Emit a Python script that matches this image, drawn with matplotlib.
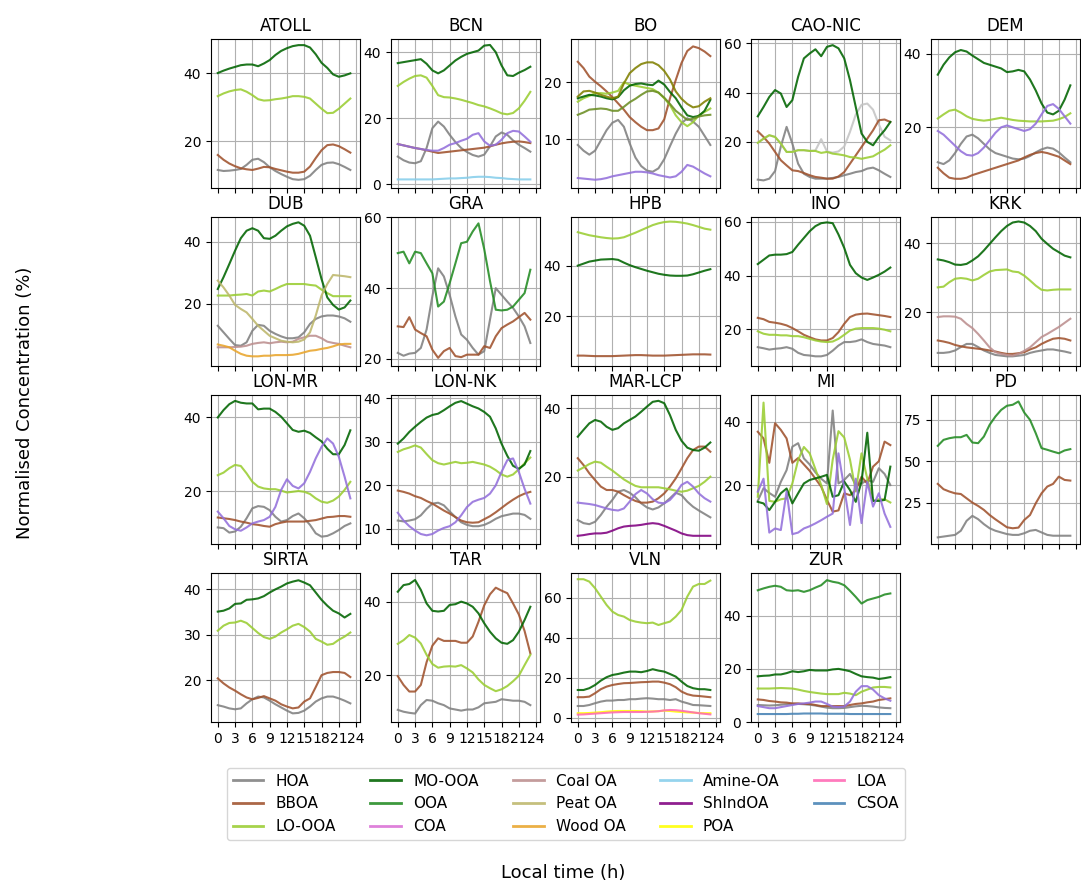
import numpy as np
import matplotlib
matplotlib.use("Agg")
import matplotlib.pyplot as plt
from matplotlib.lines import Line2D

hours = np.arange(24)

factor_order = ["HOA", "HOA-b", "BBOA", "LO-OOA", "MO-OOA", "OOA", "COA", "Coal OA", "Peat OA",
                "Wood OA", "Amine-OA", "ShIndOA", "POA", "LOA", "CSOA", "OOA-a", "OOA-b"]
factor_colors = {
    "HOA": "grey", "BBOA": "sienna", "LO-OOA": "yellowgreen", "MO-OOA": "darkgreen",
    "OOA": "forestgreen", "COA": "mediumpurple", "Coal OA": "rosybrown", "Peat OA": "darkkhaki",
    "Wood OA": "#e9a52c", "Amine-OA": "skyblue", "ShIndOA": "purple", "POA": "yellow",
    "LOA": "hotpink", "CSOA": "steelblue", "OOA-a": "olive", "OOA-b": "olivedrab",
    "HOA-b": "#c4c4c4",
}
legend_labels = ["HOA", "BBOA", "LO-OOA", "MO-OOA", "OOA", "COA", "Coal OA", "Peat OA",
                 "Wood OA", "Amine-OA", "ShIndOA", "POA", "LOA", "CSOA"]
legend_colors = {"COA": "orchid"}

sites = ["ATOLL", "BCN", "BO", "CAO-NIC", "DEM", "DUB", "GRA", "HPB", "INO", "KRK",
         "LON-MR", "LON-NK", "MAR-LCP", "MI", "PD", "SIRTA", "TAR", "VLN", "ZUR"]

ATOLL = {
    "MO-OOA": [40, 40.7, 41.3, 41.8, 42.3, 42.5, 42.5, 42, 42.8, 43.8, 45.3, 46.5, 47.3, 47.9, 48.2, 48.2, 47.5, 45.5, 43, 41.5, 39.6, 38.9, 39.3, 39.9],
    "LO-OOA": [33.2, 34, 34.6, 35, 35.2, 34.5, 33.5, 32.3, 31.9, 32, 32.3, 32.5, 32.8, 33.2, 33.2, 33, 32.5, 31, 29.5, 28.2, 28.3, 29.5, 31, 32.5],
    "BBOA": [15.9, 14.5, 13.4, 12.6, 12, 11.7, 11.5, 11.9, 12.4, 12.3, 11.8, 11.4, 11, 10.7, 10.7, 11, 12.5, 15, 17.3, 18.8, 19, 18.5, 17.6, 16.6],
    "HOA": [11.5, 11.2, 11.3, 11.5, 11.8, 13, 14.5, 14.8, 13.8, 12.3, 11.2, 10.3, 9.5, 8.8, 8.6, 8.8, 9.8, 11.5, 13, 13.6, 13.7, 13.2, 12.4, 11.5],
}
BCN = {
    "MO-OOA": [36.7, 37, 37.3, 37.6, 37.9, 36.5, 34.5, 33.6, 34.5, 36, 37.5, 38.6, 39.5, 40, 40.5, 42, 42.2, 40, 36, 33, 32.8, 33.8, 34.6, 35.6],
    "LO-OOA": [29.8, 31, 32, 32.8, 33, 32.3, 29.8, 27, 26.4, 26.3, 26, 25.6, 25.1, 24.6, 24, 23.6, 23, 22.3, 21.5, 21.2, 21.6, 23, 25.3, 28],
    "HOA": [8.4, 7.3, 6.6, 6.4, 7, 11, 17, 19, 17.5, 15, 12.8, 11, 9.8, 8.9, 8.4, 9, 11.5, 14.5, 15.7, 15, 13.3, 12, 11, 9.9],
    "COA": [12.2, 11.8, 11.4, 11, 10.7, 10.4, 10.2, 10.2, 11, 12, 12.5, 13.2, 13.8, 15, 15.5, 13, 11.7, 12, 13.5, 15.5, 16.2, 16, 14.5, 12.9],
    "BBOA": [12.2, 11.8, 11.4, 11, 10.7, 10.3, 9.9, 9.5, 9.7, 9.9, 10.1, 10.3, 10.5, 10.7, 10.9, 11.1, 11.5, 12, 12.4, 12.7, 12.9, 13, 12.8, 12.5],
    "Amine-OA": [1.5, 1.5, 1.5, 1.5, 1.5, 1.5, 1.5, 1.6, 1.7, 1.8, 1.8, 1.9, 2, 2.2, 2.3, 2.3, 2.2, 2, 1.9, 1.7, 1.6, 1.5, 1.5, 1.5],
}
BO = {
    "BBOA": [23.6, 22.5, 21, 20.1, 19.3, 18.4, 17.4, 16.3, 15.2, 13.9, 13, 12.2, 11.6, 11.6, 11.9, 13.5, 17.2, 20.4, 23.4, 25.5, 26.3, 26, 25.4, 24.6],
    "OOA-a": [17.5, 18.4, 18.5, 18.2, 17.8, 17.5, 17.2, 17.5, 19.8, 21.6, 22.5, 23.2, 23.5, 23.5, 23, 22, 20.5, 18.4, 17.1, 16.2, 15.6, 15.8, 16.6, 17.2],
    "MO-OOA": [17.2, 17.5, 17.8, 17.7, 17.5, 17.2, 17, 17.4, 18.6, 19.4, 19.7, 19.8, 19.6, 19.5, 20.3, 19.6, 18.3, 17.2, 15.6, 14.2, 13.9, 14.1, 15, 16.9],
    "LO-OOA": [16.6, 17.2, 17.6, 18.1, 18.1, 18, 18.2, 18.5, 20, 19.6, 19.4, 19.2, 19, 18.8, 18.2, 17.2, 16, 14.2, 13, 12.3, 13, 14.2, 14.8, 15.4],
    "OOA-b": [14.3, 14.7, 15.2, 15.3, 15.4, 15.3, 15, 15, 15.7, 16.5, 17.1, 17.8, 18.4, 18.5, 18.2, 17.3, 16.2, 15, 14.2, 13.4, 13.6, 14, 14.2, 14.3],
    "HOA": [9, 8, 7.3, 8, 9.8, 11.6, 12.9, 13.4, 12.2, 9.3, 6.8, 5.3, 4.5, 4.3, 4.9, 6.5, 8.8, 11, 12.8, 13.7, 13.1, 12.2, 10.6, 9],
    "COA": [3.2, 3.1, 3, 2.9, 3, 3.2, 3.5, 3.7, 3.9, 4.1, 4.3, 4.3, 4.2, 4, 3.7, 3.5, 3.3, 3.5, 4.3, 5.5, 5.2, 4.6, 4, 3.5],
}
CAO_NIC = {
    "MO-OOA": [30.3, 34.1, 38.2, 41, 39.6, 34.1, 36.9, 46.4, 53.9, 55.9, 57.6, 54.8, 58.6, 59.3, 58, 53.9, 45, 34.1, 23.3, 19.9, 18.5, 21.9, 24.6, 28],
    "BBOA": [24.2, 21.9, 19.2, 15.8, 12.4, 10.3, 8.3, 8, 7.2, 6.3, 5.6, 5.3, 4.9, 4.9, 5.8, 7.6, 11, 14.4, 17.8, 21.2, 24.6, 28.7, 29, 28],
    "LO-OOA": [19.5, 21.2, 22.6, 21.9, 19.2, 15.8, 15.8, 16.5, 16.5, 16.2, 16.2, 15.4, 15.8, 15.1, 14.8, 14.4, 13.7, 13.5, 13, 13.5, 14, 15.4, 16.7, 18.5],
    "HOA": [4.5, 4.2, 4.9, 8, 18, 26, 19.2, 11, 6.9, 5.6, 4.9, 4.9, 4.9, 5.2, 5.6, 6.3, 6.9, 7.6, 8, 9, 9.4, 8.3, 6.9, 5.6],
    "HOA-b": [19.5, 21.2, 22.6, 21.9, 19.2, 15.8, 15.8, 16.5, 16.5, 16.2, 16.4, 21, 16, 15.5, 16, 18, 24, 31, 35, 35.5, 33, 27, 22, 20.5],
}
DEM = {
    "MO-OOA": [34.3, 37, 39, 40.4, 41, 40.6, 39.5, 38.5, 37.5, 37, 36.5, 36, 35, 35.2, 35.6, 35.2, 33, 30, 26.5, 24, 23.5, 24.5, 27.5, 31.4],
    "LO-OOA": [22.4, 23.5, 24.5, 24.8, 24, 23, 22.3, 22, 21.8, 22, 22.3, 22.6, 22.3, 22, 21.8, 21.7, 21.6, 21.6, 21.6, 21.7, 21.8, 22.2, 22.8, 23.8],
    "COA": [19, 18, 16.5, 15, 13.5, 12.5, 12.3, 13, 14.5, 16.5, 18.5, 20, 20.5, 20, 19.5, 19, 19.5, 21, 23.5, 25.8, 26.3, 25, 23, 21],
    "HOA": [10.5, 10, 11, 13, 15.5, 17.5, 18, 17, 15.5, 14, 13, 12.5, 12, 11.5, 11.3, 11.5, 12.2, 13.2, 14, 14.5, 14.2, 13.2, 11.8, 10.5],
    "BBOA": [9, 7.5, 6.3, 6, 6, 6.3, 7, 7.5, 8, 8.5, 9, 9.5, 10, 10.5, 11, 11.8, 12.5, 13, 13.3, 13, 12.5, 12, 11, 10],
}
DUB = {
    "MO-OOA": [24.8, 28.6, 32.8, 37.1, 41.1, 43.5, 44.3, 43.5, 41.1, 40.9, 41.9, 43.5, 44.9, 45.7, 46.2, 45.1, 41.9, 35, 28, 22.1, 19.7, 18.2, 18.9, 21.1],
    "LO-OOA": [22.7, 22.7, 22.7, 22.9, 23, 23.2, 22.7, 24, 24.3, 24, 24.8, 25.7, 26.4, 26.4, 26.4, 26.4, 26.1, 25.9, 24.6, 23.5, 22.5, 22.5, 22.5, 22.5],
    "Peat OA": [27.5, 25.3, 22.7, 19.7, 18.4, 17.3, 15.2, 13, 11.4, 9.8, 9, 8.2, 7.9, 7.7, 7.9, 8.6, 10.9, 16.3, 22.7, 26.4, 29.3, 29.1, 28.9, 28.6],
    "HOA": [13, 10.9, 8.8, 6.8, 6.6, 7.7, 11.4, 13.3, 13, 11.4, 10.4, 9.6, 9, 9, 9.3, 10.9, 13.6, 15.2, 16, 16.3, 16.3, 16, 15.4, 14.3],
    "Coal OA": [6.1, 6.1, 6.1, 6.2, 6.3, 6.6, 7.2, 7.5, 7.7, 7.4, 7.7, 7.9, 7.7, 7.9, 8.8, 9.3, 9.8, 9.8, 9, 7.9, 7.5, 7.2, 6.6, 6.1],
    "Wood OA": [7, 6.6, 6.1, 5, 4, 3.4, 3.2, 3.2, 3.4, 3.4, 3.6, 3.6, 3.6, 3.7, 4, 4.5, 5, 5.2, 5.6, 5.9, 6.4, 7, 7.2, 7.2],
}
GRA = {
    "OOA": [49.9, 50.3, 47, 50.3, 49.9, 47, 44.2, 34.8, 36.2, 41.4, 47, 52.7, 53.1, 56, 58.3, 51, 42, 33.9, 33.7, 33.9, 34.8, 36.7, 38.6, 45.2],
    "HOA": [21.7, 20.9, 21.5, 21.7, 23.1, 28.3, 37.7, 45.6, 43.3, 38.1, 32, 26.9, 25.4, 23.1, 21.2, 22.2, 31.1, 40, 38.1, 36.2, 34.4, 32, 29.2, 24.5],
    "BBOA": [29.2, 29, 31.8, 28.3, 27.3, 26.4, 22.6, 20.3, 22.2, 23.1, 20.8, 20.5, 21.2, 21.2, 21.2, 23.6, 23.1, 26.4, 28.7, 29.7, 30.6, 31.8, 33, 31.1],
}
HPB = {
    "LO-OOA": [53.2, 52.6, 52, 51.6, 51.2, 50.9, 50.7, 50.8, 51.2, 52.1, 53, 54, 55, 56, 56.7, 57.2, 57.4, 57.3, 57, 56.6, 56, 55.3, 54.6, 54.2],
    "MO-OOA": [40, 40.8, 41.6, 42, 42.4, 42.5, 42.6, 42.3, 41.2, 40.2, 39.4, 38.7, 38, 37.4, 36.8, 36.4, 36.1, 36, 36, 36.1, 36.6, 37.3, 38, 38.6],
    "BBOA": [4.5, 4.5, 4.4, 4.3, 4.3, 4.3, 4.3, 4.4, 4.5, 4.6, 4.7, 4.7, 4.6, 4.5, 4.5, 4.5, 4.6, 4.7, 4.8, 4.9, 5, 5, 5, 4.9],
}
INO = {
    "MO-OOA": [44.3, 45.9, 47.5, 47.8, 47.8, 48, 48.8, 51.5, 54, 56.5, 58.4, 59.5, 59.8, 59.5, 55.3, 50.3, 44, 40.9, 39.3, 38.4, 39.3, 40.3, 41.5, 43],
    "BBOA": [24.3, 23.8, 22.8, 22.5, 22.1, 21.5, 20.5, 19.3, 18, 17.1, 16.3, 15.9, 15.9, 16.8, 19, 22.1, 24.6, 25.5, 25.8, 25.9, 25.6, 25.3, 25, 24.6],
    "LO-OOA": [19.3, 18.4, 18, 18, 17.8, 17.8, 17.5, 17.5, 17.1, 16.5, 15.9, 15.5, 15.3, 15.5, 16.5, 18, 19.6, 20.3, 20.5, 20.5, 20.5, 20.3, 19.9, 19.3],
    "HOA": [13.4, 13, 12.5, 12.8, 13, 13.4, 12.8, 11.3, 10.5, 10.3, 10, 10, 10.5, 12.1, 14, 15.3, 15.3, 15.6, 16.3, 15.3, 14.6, 14.3, 14, 13.4],
}
KRK = {
    "MO-OOA": [35.3, 35, 34.5, 33.8, 33.7, 34, 35, 36.2, 37.9, 39.8, 41.7, 43.5, 45, 46, 46.3, 46, 45, 43.5, 41.3, 39.8, 38.4, 37.4, 36.4, 35.9],
    "LO-OOA": [27.2, 27.4, 28.7, 29.7, 29.9, 29.7, 29.2, 29.7, 30.8, 31.8, 32.2, 32.3, 32.4, 31.8, 31.6, 30.6, 29.2, 27.7, 26.5, 26.3, 26.5, 26.6, 26.6, 26.6],
    "Coal OA": [18.6, 18.8, 18.8, 18.7, 18.1, 16.6, 15.4, 13.7, 11.8, 9.8, 8.4, 7.9, 7.6, 7.4, 7.9, 8.8, 9.8, 11.3, 12.8, 13.7, 14.7, 15.7, 16.9, 18.1],
    "BBOA": [11.8, 11.5, 11.1, 10.5, 10.1, 9.8, 9.6, 9.4, 9.2, 8.9, 8.6, 8.2, 7.9, 7.9, 8.1, 8.4, 9.2, 9.8, 10.8, 11.6, 12.3, 12.5, 12.3, 11.8],
    "HOA": [8.2, 8.2, 8.4, 8.9, 9.9, 10.8, 10.8, 9.9, 8.9, 8.2, 7.6, 7.4, 7.2, 7.2, 7.4, 7.6, 8.2, 8.6, 8.9, 9.2, 9.2, 8.9, 8.6, 8.2],
}
LON_MR = {
    "MO-OOA": [40, 42, 43.6, 44.5, 44, 43.8, 43.8, 42.2, 42.4, 42.4, 41.5, 40.2, 38.4, 36.6, 36.1, 36.4, 35.8, 34.6, 33.5, 31.5, 30, 30, 32.5, 36.5],
    "COA": [14.4, 12.6, 10.5, 9.6, 9.2, 10.1, 11.2, 11.7, 12.1, 13, 15.7, 20.3, 23.2, 21.4, 20.7, 22.1, 25.2, 28.9, 32, 34.3, 32.9, 29.3, 23.9, 18],
    "LO-OOA": [24.3, 25, 26.2, 27.1, 26.8, 24.8, 22.5, 21.2, 20.7, 20.5, 20.5, 20.1, 19.6, 19.8, 20, 19.8, 19.2, 18, 17.1, 16.8, 17.4, 18.5, 20.3, 22.5],
    "BBOA": [12.8, 12.6, 12.4, 12.1, 11.7, 11.4, 11, 10.8, 10.5, 10.3, 11, 11.4, 11.7, 11.7, 11.7, 11.7, 11.9, 12.1, 12.5, 12.9, 13, 13.2, 13.2, 13],
    "HOA": [10.1, 9.9, 8.7, 9, 10.3, 12.6, 15.3, 15.9, 15.7, 14.8, 13, 11.7, 12.1, 13.2, 13.9, 12.6, 10.8, 8.5, 7.6, 7.8, 8.5, 9.4, 10.5, 11.2],
}
LON_NK = {
    "MO-OOA": [29.6, 30.8, 32.3, 33.5, 34.6, 35.6, 36.2, 36.5, 37.3, 38.2, 39, 39.4, 38.8, 38.2, 37.7, 36.9, 35.8, 33.1, 29.6, 26.8, 24.5, 23.8, 24.8, 27.9],
    "LO-OOA": [27.7, 28.3, 28.7, 29.2, 28.7, 27.2, 25.8, 25.1, 24.8, 25.1, 25.4, 25.1, 25.2, 25.4, 25.1, 24.8, 24.3, 23.5, 22.5, 22, 22.5, 23.7, 25.1, 26.4],
    "COA": [13.7, 11.9, 10.6, 9.6, 8.8, 8.5, 8.8, 9.6, 10.2, 10.6, 11.5, 13.1, 15, 16.2, 16.7, 17.1, 18.1, 20, 23.1, 25.8, 26.2, 23.1, 19.2, 15.8],
    "BBOA": [18.8, 18.5, 18.1, 17.5, 17.1, 16.4, 15.8, 15, 14.2, 13.5, 12.7, 11.9, 11.5, 11.4, 11.5, 12.2, 12.9, 13.8, 14.8, 15.8, 16.7, 17.5, 18.1, 18.5],
    "HOA": [11.9, 11.7, 11.9, 12.2, 13.1, 14.6, 15.8, 16, 15.4, 14, 12.7, 11.5, 10.9, 10.6, 10.6, 10.9, 11.5, 12.3, 12.9, 13.2, 13.5, 13.5, 13.2, 12.3],
}
MAR_LCP = {
    "MO-OOA": [31.7, 33.7, 35.6, 36.6, 36.1, 34.6, 33.7, 34.2, 35.6, 36.6, 37.6, 39, 40.5, 41.9, 42.2, 41.5, 38, 33.7, 30.5, 28.5, 27.8, 27.6, 28.5, 30],
    "BBOA": [25.4, 23.4, 21, 19, 17.1, 16.1, 16.1, 15.6, 14.6, 13.7, 12.9, 12.4, 12.4, 12.7, 13.7, 15.1, 17.1, 19.5, 22.4, 25.4, 27.8, 28.8, 28.8, 27.3],
    "LO-OOA": [21.8, 22.7, 23.7, 24.4, 24.1, 22.9, 21.8, 20.5, 19.2, 18.2, 17.3, 16.9, 16.9, 16.9, 16.9, 16.6, 16.3, 15.9, 15.6, 15.9, 16.6, 17.3, 18.5, 20],
    "COA": [12.4, 12.2, 12, 11.7, 11.2, 10.7, 10.3, 10.1, 10.7, 12.7, 14.9, 16.1, 15.1, 13.4, 12.4, 12.2, 13.2, 15.1, 17.6, 18.5, 17.1, 15.1, 13.7, 12.7],
    "HOA": [7.3, 6.4, 6.1, 6.8, 8.8, 11.2, 13.2, 15.6, 16.1, 15.3, 14, 12.2, 11, 10.4, 11, 12.2, 13.7, 15.3, 14.6, 12.7, 11.2, 10.1, 9.1, 8.1],
    "ShIndOA": [2.7, 2.9, 3.2, 3.4, 3.4, 3.6, 4.2, 4.9, 5.4, 5.6, 5.7, 5.9, 6.2, 6.4, 6.2, 5.6, 4.9, 4.2, 3.4, 2.9, 2.7, 2.7, 2.7, 2.7],
}
MI = {
    "HOA": [15, 19, 17.5, 16.3, 21, 24.7, 32.1, 33.2, 28.4, 26.5, 24, 22, 20.5, 43.5, 20.5, 21.6, 23.5, 20, 20.5, 21.5, 21, 25.3, 23.5, 20],
    "BBOA": [36.8, 34.7, 27, 39.5, 37.4, 34.7, 27, 28.5, 26.5, 24.5, 22, 19.5, 15.3, 11.6, 12, 17.4, 16.8, 18.4, 22.6, 20.5, 25.8, 27.5, 33.7, 32.6],
    "LO-OOA": [16.3, 46, 15, 14.7, 15.5, 15.8, 20.5, 27.9, 32, 30, 25, 20, 14, 28, 37, 35, 28, 18, 30, 22, 15, 15.5, 15.5, 14.5],
    "MO-OOA": [14.7, 14.2, 12.1, 14.7, 17.4, 18.9, 14.2, 17.4, 20.5, 21.6, 22.1, 22.6, 23.2, 16.3, 16.8, 21.1, 18.4, 14.7, 21.1, 36.5, 15, 15, 15.3, 25.8],
    "COA": [17.9, 22, 5, 6.3, 5.8, 18, 4.5, 5, 6.3, 7, 7.9, 8.9, 10, 11, 30, 19, 7.4, 22, 8, 21, 13.2, 17.4, 11, 6.8],
}
PD = {
    "OOA": [59.3, 62.9, 63.9, 64.5, 64.5, 65.9, 61.3, 60.9, 64.9, 72, 77, 81, 83.5, 84.1, 86.1, 79.4, 75, 66.9, 57.9, 56.9, 55.8, 54.8, 56.5, 57.3],
    "BBOA": [36.3, 33.1, 31.7, 30.6, 30.2, 27.6, 25, 23, 20.6, 17.5, 14.9, 12.5, 10.1, 9.5, 9.9, 14.5, 17.5, 24.6, 30.6, 34.7, 36.3, 40.7, 38.7, 38.3],
    "HOA": [4, 4.5, 5, 5.5, 8, 14, 17, 15, 12, 9.5, 8, 7, 6, 5.5, 5.5, 6.5, 8, 8.5, 7, 5.5, 5, 5, 5, 5],
}
SIRTA = {
    "MO-OOA": [35.1, 35.3, 35.8, 36.8, 36.9, 37.7, 37.8, 38, 38.5, 39.3, 40, 40.6, 41.3, 41.7, 42, 41.5, 40.9, 39.3, 37.7, 36.4, 35.3, 34.7, 33.8, 34.6],
    "LO-OOA": [30.9, 32, 32.6, 32.7, 33.1, 32.6, 31.5, 30.4, 29.5, 29.1, 29.6, 30.5, 31.2, 32, 32.4, 31.7, 30.7, 29.1, 28.5, 27.8, 28, 28.9, 29.6, 30.5],
    "BBOA": [20.4, 19.3, 18.4, 17.7, 16.9, 16.2, 15.8, 16.1, 16.5, 16, 15.5, 14.7, 14.2, 13.8, 14, 15.3, 16, 18.5, 21.1, 21.6, 21.8, 21.8, 21.6, 20.7],
    "HOA": [14.5, 14.2, 13.8, 13.6, 13.8, 14.9, 15.8, 16.4, 16.2, 15.5, 14.7, 14, 13.3, 12.7, 12.8, 13.3, 14.2, 15.3, 16, 16.4, 16.4, 16, 15.5, 14.9],
}
TAR = {
    "MO-OOA": [42.7, 44.5, 44.8, 45.9, 43.2, 39.5, 37.5, 37.3, 37.5, 39.1, 39.3, 40, 39.5, 38.6, 36.8, 34.1, 31.8, 30, 28.8, 28.5, 29.5, 31.8, 35, 38.6],
    "BBOA": [19.7, 17.3, 15.5, 15.5, 17.3, 23.5, 28, 30, 29.3, 29.3, 29.3, 28.8, 28.8, 30.5, 34.5, 39, 42, 43.8, 43, 42.3, 39.5, 36.5, 32, 25.9],
    "LO-OOA": [28.5, 29.5, 30.9, 30.2, 28.6, 25.5, 23, 22, 22.3, 22.4, 22.3, 22.7, 21.8, 20.7, 18.8, 17.3, 16.4, 15.6, 16.1, 17, 18.3, 19.8, 22.7, 25.5],
    "HOA": [10.5, 10, 9.7, 9.5, 11.8, 13.2, 13, 12.3, 11.8, 10.9, 10.6, 10.3, 10.6, 10.6, 11.2, 12.3, 12.5, 12.7, 13.4, 13.2, 13, 13, 12.7, 11.8],
}
VLN = {
    "LO-OOA": [69.2, 69.2, 68, 64.7, 60.5, 56.3, 53, 51.3, 50.5, 48.8, 48, 47.5, 47.2, 47.5, 46.3, 47.2, 48, 50.5, 53.8, 60.5, 65.5, 66.8, 66.8, 68.5],
    "MO-OOA": [13.8, 13.8, 14.7, 16.3, 18.5, 20.2, 21.3, 21.8, 22.5, 23, 23, 22.7, 23.3, 24.2, 23.5, 23, 21.8, 20.5, 18, 15.8, 14.7, 14.2, 14.2, 13.8],
    "BBOA": [10.2, 10.2, 10.5, 12.2, 14.2, 15.5, 16.3, 16.8, 17.2, 17.3, 17.5, 17.7, 17.8, 18, 18, 17.5, 16.7, 15.2, 13, 11.7, 11, 10.8, 10.5, 10.2],
    "HOA": [5.8, 5.8, 6.3, 7.2, 8, 8.5, 8.5, 8.8, 8.8, 9.2, 9.2, 9.5, 9.7, 9.5, 9.2, 9.2, 8.8, 9.2, 8, 7.2, 6.3, 6.2, 6, 5.8],
    "POA": [2.2, 2.2, 2.3, 2.5, 2.7, 3, 3.2, 3.3, 3.3, 3.3, 3.3, 3.2, 3, 3.1, 3.2, 3.5, 3.3, 3, 2.8, 2.6, 2.5, 2.3, 2.2, 2.2],
    "LOA": [1.5, 1.6, 1.8, 2, 2.2, 2.4, 2.6, 2.7, 2.8, 2.8, 2.8, 2.8, 2.9, 3, 3.2, 3.6, 3.8, 3.7, 3.4, 3, 2.6, 2.2, 1.9, 1.6],
}
ZUR = {
    "OOA": [49.6, 50.3, 50.9, 51.3, 50.9, 49.6, 49.4, 49.6, 49, 49.6, 50.6, 51.5, 53.4, 52.8, 52.4, 51.5, 49.4, 47.1, 44.6, 45.9, 46.5, 47.1, 48, 48.4],
    "MO-OOA": [17.2, 17.4, 17.5, 17.9, 17.9, 18.4, 19.1, 18.8, 19.1, 19.6, 19.4, 19.4, 19.4, 19.8, 20, 19.6, 19.1, 18.1, 17.2, 16.9, 16.7, 16.2, 16.5, 16.9],
    "LO-OOA": [12.6, 12.6, 12.6, 12.7, 12.8, 12.7, 12.6, 12.2, 11.7, 11.3, 11, 10.7, 10.5, 10.5, 10.5, 11, 10.7, 10.1, 11.4, 12.2, 13, 13.2, 13.2, 13],
    "COA": [6, 5.6, 5.2, 5.2, 5.6, 6, 6.4, 6.8, 7, 7.3, 7.7, 7.7, 6.8, 5.8, 5.6, 5.8, 7.7, 11.4, 13.5, 13.5, 12.2, 10.1, 8.9, 8],
    "BBOA": [8.5, 8.3, 7.9, 7.7, 7.4, 7.3, 7, 7, 6.8, 6.8, 6.4, 6, 6, 6, 6, 6, 6.4, 6.8, 7, 7.4, 7.7, 8.3, 8.6, 8.9],
    "HOA": [6.4, 6.3, 6.2, 6.3, 6.5, 6.7, 6.8, 6.8, 6.7, 6.5, 6.2, 5.8, 5.4, 5.2, 5.2, 5.3, 5.6, 5.9, 6.1, 6, 5.8, 5.5, 5.3, 5.2],
    "CSOA": [3, 3, 3, 3, 3, 3, 3.1, 3.1, 3.2, 3.2, 3.2, 3.2, 3.1, 3.1, 3.1, 3.1, 3, 3, 3, 3, 3, 3, 3, 3],
}

site_data = {"ATOLL": ATOLL, "BCN": BCN, "BO": BO, "CAO-NIC": CAO_NIC, "DEM": DEM, "DUB": DUB,
             "GRA": GRA, "HPB": HPB, "INO": INO, "KRK": KRK, "LON-MR": LON_MR, "LON-NK": LON_NK,
             "MAR-LCP": MAR_LCP, "MI": MI, "PD": PD, "SIRTA": SIRTA, "TAR": TAR, "VLN": VLN, "ZUR": ZUR}

y_limits = {"ATOLL": (6.2, 50), "BCN": (-1.1, 44), "BO": (1.45, 27.6), "CAO-NIC": (1.1, 61.8),
            "DEM": (3.5, 44), "DUB": (0.1, 47.9), "GRA": (18, 60.1), "HPB": (0.4, 59.2),
            "INO": (6.4, 61.8), "KRK": (4.4, 47.6), "LON-MR": (5.6, 46.1), "LON-NK": (6.5, 40.8),
            "MAR-LCP": (0.3, 43.9), "MI": (1.4, 48.4), "PD": (0, 90), "SIRTA": (10.8, 43.6),
            "TAR": (7.2, 47.8), "VLN": (-2.2, 72.3), "ZUR": (0.1, 56.1)}
y_ticks = {"ATOLL": [20, 40], "BCN": [0, 20, 40], "BO": [10, 20], "CAO-NIC": [20, 40, 60],
           "DEM": [20, 40], "DUB": [20, 40], "GRA": [20, 40, 60], "HPB": [20, 40],
           "INO": [20, 40, 60], "KRK": [20, 40], "LON-MR": [20, 40], "LON-NK": [10, 20, 30, 40],
           "MAR-LCP": [20, 40], "MI": [20, 40], "PD": [25, 50, 75], "SIRTA": [20, 30, 40],
           "TAR": [20, 40], "VLN": [0, 20, 40, 60], "ZUR": [0, 20, 40]}
x_ticks = list(range(0, 25, 3))

fig, axes = plt.subplots(4, 5, figsize=(10.81, 8.81), dpi=100, sharex=True)
fig.subplots_adjust(left=211 / 1081, right=1080 / 1081, top=1 - 39 / 881,
                    bottom=1 - 722 / 881, wspace=31 / 149, hspace=29 / 149)

for ax, site in zip(axes.flat, sites):
    data = site_data[site]
    for factor in factor_order:
        if factor in data:
            ax.plot(hours, data[factor], color=factor_colors[factor], lw=1.5, alpha=0.88)
    ax.set_title(site, fontsize=12)
    ax.set_ylim(*y_limits[site])
    ax.set_yticks(y_ticks[site])
    ax.grid(True, color="#b0b0b0", lw=0.8)
    ax.tick_params(labelsize=10)

axes[0, 0].set_xticks(x_ticks)
axes[0, 0].set_xlim(-1.175, 24.675)
axes[3, 4].remove()

handles = [Line2D([0], [0], color=legend_colors.get(f, factor_colors[f]), lw=2, alpha=0.88)
           for f in legend_labels]
fig.legend(handles, legend_labels, ncol=5, loc="upper center",
           bbox_to_anchor=(566 / 1081, 0.1375), fontsize=11, columnspacing=2.25)

fig.text(0.023, 0.543, "Normalised Concentration (%)", rotation=90,
         ha="center", va="center", fontsize=13)
fig.text(0.521, 0.009, "Local time (h)", ha="center", va="center", fontsize=13)

fig.savefig("out.png", dpi=100)
